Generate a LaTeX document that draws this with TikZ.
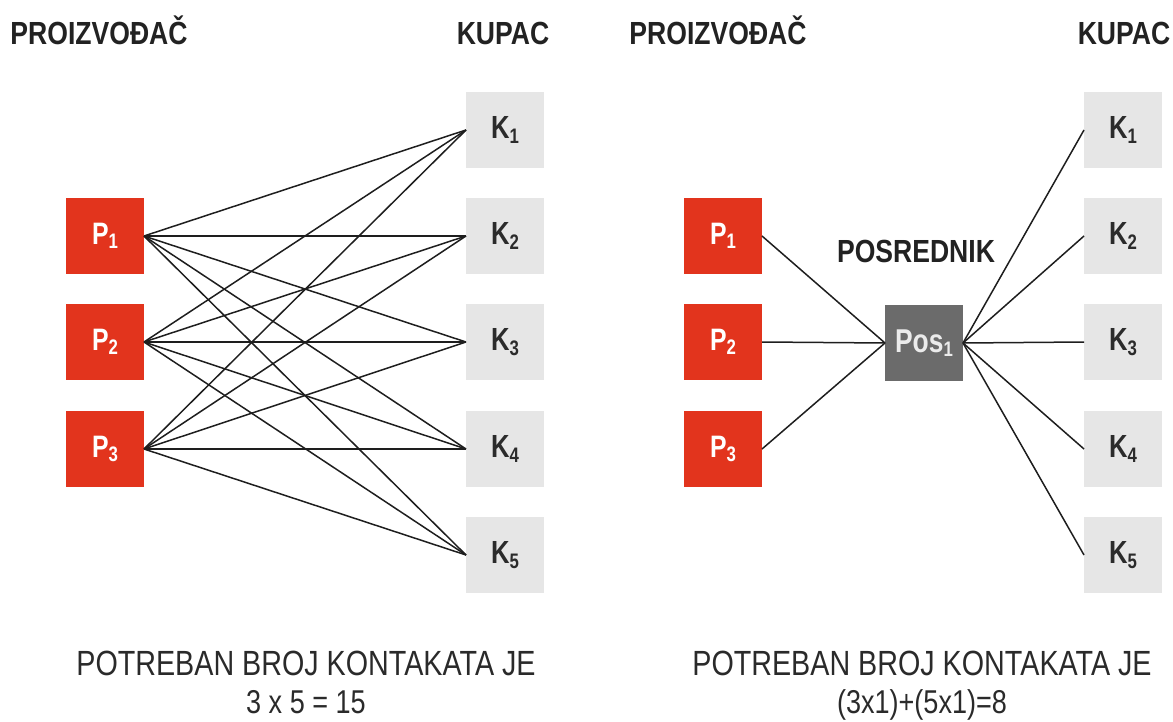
\documentclass[tikz,border=0pt]{standalone}
\usepackage{fontspec}
\setmainfont{Liberation Sans}
\newfontfamily\headfont[FakeStretch=0.83]{Liberation Sans}
\newfontfamily\bodyfont[FakeStretch=0.82]{Liberation Sans}
\newfontfamily\labfont[FakeStretch=0.8]{Liberation Sans}
\definecolor{pred}{HTML}{E2341D}
\definecolor{kgray}{HTML}{E6E6E6}
\definecolor{posgray}{HTML}{6B6B6B}
\definecolor{headc}{HTML}{222222}
\definecolor{footc}{HTML}{2A2A2A}
\definecolor{linec}{HTML}{1E1E1E}
\definecolor{ktext}{HTML}{2B2B2B}
\newcommand{\lowidx}[1]{\raisebox{-4.5pt}{\fontsize{21}{23}\selectfont #1}}
\tikzset{
  boxbase/.style={minimum width=78pt, minimum height=76pt, inner sep=0pt, outer sep=0pt},
  pbox/.style={boxbase, fill=pred, text=white, font=\labfont\bfseries\fontsize{31}{34}\selectfont},
  kbox/.style={boxbase, fill=kgray, text=ktext, font=\labfont\bfseries\fontsize{32}{34}\selectfont},
  posbox/.style={boxbase, fill=posgray, text=white!92!black, font=\labfont\bfseries\fontsize{33}{35}\selectfont},
  head/.style={font=\headfont\bfseries\fontsize{32}{36}\selectfont, text=headc, anchor=base, inner sep=0pt},
  foot/.style={font=\bodyfont\fontsize{35}{40}\selectfont, text=footc, anchor=base, inner sep=0pt},
  link/.style={draw=linec, line width=1.5pt}
}
\begin{document}
\begin{tikzpicture}[x=1pt, y=-1pt]
\useasboundingbox (0,0) rectangle (1173,722);
% headings
\node[head] (h1) at (99,45) {PROIZVOĐAČ};
\node[head] (h2) at (503,45) {KUPAC};
\node[head] (h3) at (718,45) {PROIZVOĐAČ};
\node[head] (h4) at (1124,45) {KUPAC};
\node[head] (hpos) at (916,262) {POSREDNIK};
% left diagram
\foreach \i/\y in {1/236,2/342,3/449}{
  \node[pbox] (LP\i) at (105,\y) {P\lowidx{\i}};
}
\foreach \j/\y in {1/130,2/236,3/342,4/449,5/555}{
  \node[kbox] (LK\j) at (505,\y) {K\lowidx{\j}};
}
\foreach \i in {1,2,3}{
  \foreach \j in {1,2,3,4,5}{
    \draw[link] (LP\i.east) -- (LK\j.west);
  }
}
% right diagram
\foreach \i/\y in {1/236,2/342,3/449}{
  \node[pbox] (RP\i) at (723,\y) {P\lowidx{\i}};
}
\node[posbox] (POS) at (924,343) {Pos\lowidx{1}};
\foreach \j/\y in {1/130,2/236,3/342,4/449,5/555}{
  \node[kbox] (RK\j) at (1123,\y) {K\lowidx{\j}};
}
\foreach \i in {1,2,3}{
  \draw[link] (RP\i.east) -- (POS.west);
}
\foreach \j in {1,2,3,4,5}{
  \draw[link] (POS.east) -- (RK\j.west);
}
% bottom texts
\node[foot] (f1) at (306,675) {POTREBAN BROJ KONTAKATA JE};
\node[foot, font=\bodyfont\fontsize{33}{38}\selectfont] (f2) at (306,713) {3 x 5 = 15};
\node[foot] (f3) at (922,675) {POTREBAN BROJ KONTAKATA JE};
\node[foot, font=\bodyfont\fontsize{33}{38}\selectfont] (f4) at (922,713) {(3x1)+(5x1)=8};
\end{tikzpicture}
\end{document}
